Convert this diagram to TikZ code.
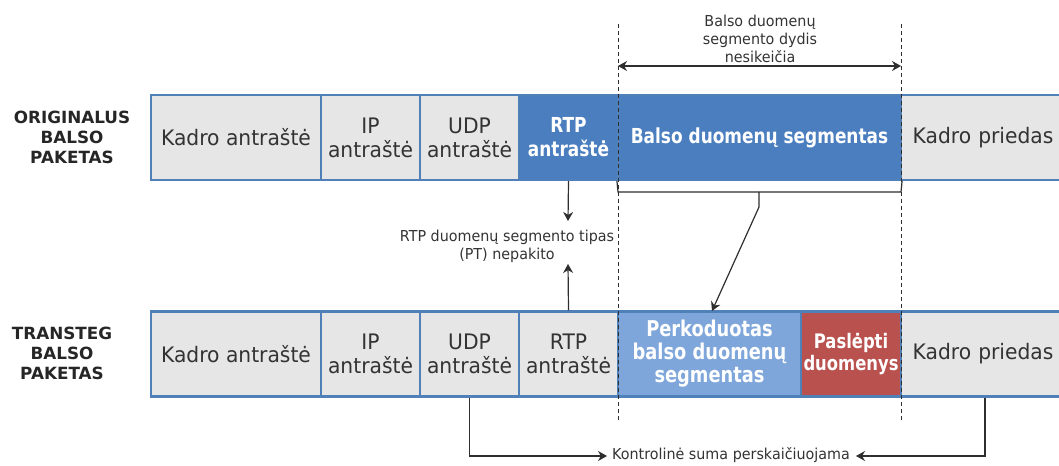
\documentclass[tikz,border=0pt]{standalone}
\usepackage{fontspec}
\setmainfont{DejaVu Sans}[FakeStretch=0.95, BoldFeatures={FakeStretch=0.82}]
\newfontfamily\labfont{DejaVu Sans}
\usetikzlibrary{arrows.meta}
\definecolor{cellfill}{HTML}{E6E6E6}
\definecolor{cellborder}{HTML}{5080B8}
\definecolor{darkblue}{HTML}{4A7EBF}
\definecolor{lightblue}{HTML}{7EA6DA}
\definecolor{hidered}{HTML}{B9514E}
\definecolor{txtgrey}{HTML}{333333}
\definecolor{linegrey}{HTML}{2E2E2E}
\newdimen\pxu \pxu=0.75pt
\tikzset{
  cell/.style={draw=cellborder, line width=1.6pt, fill=cellfill, inner sep=0pt,
    align=center, text=txtgrey, font=\fontsize{16}{18}\selectfont,
    minimum height=85\pxu},
  bluecell/.style={cell, fill=darkblue, text=white, font=\bfseries\fontsize{15.5}{18}\selectfont},
  lbluecell/.style={cell, fill=lightblue, text=white, font=\bfseries\fontsize{16.3}{17.3}\selectfont},
  redcell/.style={cell, fill=hidered, text=white, font=\bfseries\fontsize{15}{17}\selectfont},
  rowlabel/.style={align=center, text=black!85, font=\labfont\bfseries\fontsize{12.6}{15}\selectfont},
  small/.style={align=center, text=txtgrey, font=\fontsize{11.3}{13.5}\selectfont},
  conn/.style={draw=linegrey, line width=0.9pt},
  arr/.style={conn, -{Stealth[length=6.75pt, width=7.5pt]}},
  darr/.style={conn, {Stealth[length=6.75pt, width=7.5pt]}-{Stealth[length=6.75pt, width=7.5pt]}},
  dashline/.style={draw=linegrey, line width=0.7pt, dash pattern=on 3pt off 2.25pt},
}
\begin{document}
\begin{tikzpicture}[x=0.75pt, y=-0.75pt]
\useasboundingbox (0,0) rectangle (1059,466);
% top row
\node[cell, minimum width=170\pxu] (k1) at (236,137.5) {Kadro antraštė};
\node[cell, minimum width=99\pxu] (ip1) at (370.5,137.5) {IP\\antraštė};
\node[cell, minimum width=99\pxu] (udp1) at (469.5,137.5) {UDP\\antraštė};
\node[bluecell, minimum width=99\pxu] (rtp1) at (568.5,137.5) {RTP\\antraštė};
\node[bluecell, minimum width=283\pxu] (bal1) at (759.5,137.5) {Balso duomenų segmentas};
\node[cell, minimum width=164\pxu, text width=150\pxu] (kp1) at (983,137.5) {Kadro priedas};
% bottom row
\node[cell, minimum width=170\pxu] (k2) at (236,354) {Kadro antraštė};
\node[cell, minimum width=99\pxu] (ip2) at (370.5,354) {IP\\antraštė};
\node[cell, minimum width=99\pxu] (udp2) at (469.5,354) {UDP\\antraštė};
\node[cell, minimum width=99\pxu] (rtp2) at (568.5,354) {RTP\\antraštė};
\node[lbluecell, minimum width=183\pxu] (per) at (709.5,354) {Perkoduotas\\balso duomenų\\segmentas};
\node[redcell, minimum width=100\pxu] (pas) at (851,354) {Paslėpti\\duomenys};
\node[cell, minimum width=164\pxu, text width=150\pxu] (kp2) at (983,354) {Kadro priedas};
% row labels
\node[rowlabel] (lab1) at (72,137) {ORIGINALUS\\BALSO\\PAKETAS};
\node[rowlabel] (lab2) at (62,353) {TRANSTEG\\BALSO\\PAKETAS};
% dashed guides
\coordinate (dlt) at (618,24);
\coordinate (dlb) at (618,420);
\coordinate (drt) at (901,24);
\coordinate (drb) at (901,420);
\draw[dashline] (dlt) -- (dlb);
\draw[dashline] (drt) -- (drb);
% size annotation
\node[small] (sizetxt) at (760,39) {Balso duomenų\\segmento dydis\\nesikeičia};
\coordinate (sl) at (618,66);
\coordinate (sr) at (901,66);
\draw[darr] (sl) -- (sr);
% bracket
\coordinate (bl) at (618,192);
\coordinate (br) at (901,192);
\coordinate (bm) at (759,192);
\coordinate (bm2) at (759,207);
\coordinate (bt) at (712,311);
\draw[conn] (bal1.south west) -- (bl) -- (br) -- (bal1.south east);
\draw[arr] (bm) -- (bm2) -- (bt);
% RTP type
\node[small] (pttxt) at (507,246) {RTP duomenų segmento tipas\\(PT) nepakito};
\coordinate (rd) at (568,221);
\coordinate (ru) at (568,264);
\draw[arr] (rtp1.south) -- (rd);
\draw[arr] (rtp2.north) -- (ru);
% checksum
\node[small] (cstxt) at (731,455) {Kontrolinė suma perskaičiuojama};
\coordinate (u1) at (469.5,456);
\coordinate (u2) at (607,456);
\coordinate (k3) at (985,456);
\coordinate (k4) at (856,456);
\draw[arr] (udp2.south) -- (u1) -- (u2);
\draw[arr] (k3 |- kp2.south) -- (k3) -- (k4);
\end{tikzpicture}
\end{document}
